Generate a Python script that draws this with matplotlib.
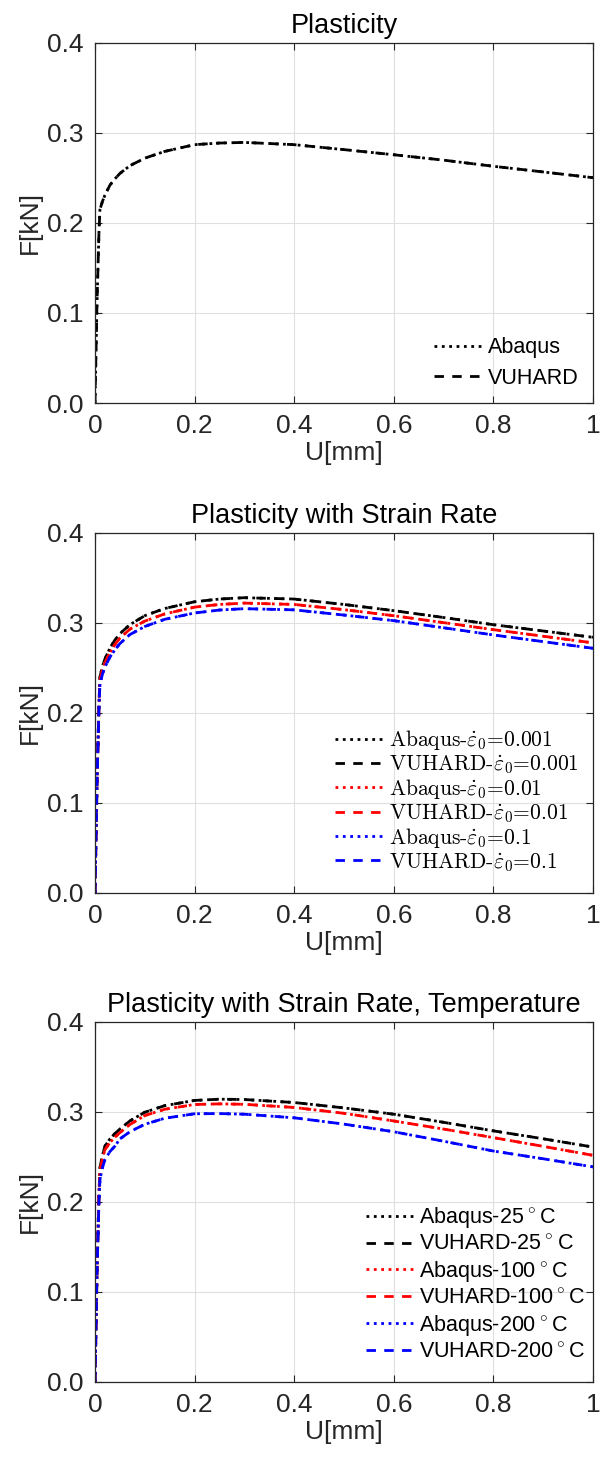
import numpy as np
import matplotlib
matplotlib.use("Agg")
import matplotlib.pyplot as plt

plt.rcParams['font.family'] = ['Liberation Sans', 'DejaVu Sans']
plt.rcParams['mathtext.fontset'] = 'cm'

# displacement points (mm)
u = [0.0, 0.004, 0.008, 0.01, 0.015, 0.02, 0.03, 0.04, 0.05, 0.07, 0.1,
     0.14, 0.2, 0.25, 0.3, 0.4, 0.5, 0.6, 0.7, 0.8, 0.9, 1.0]

# plasticity only
f_plast = [0, 0.11, 0.19, 0.215, 0.224, 0.231, 0.242, 0.249, 0.255, 0.2636, 0.272,
           0.2795, 0.287, 0.2888, 0.2895, 0.287, 0.2815, 0.2758, 0.2698, 0.263, 0.2567, 0.2503]

# strain rate
f_rate_001 = [0, 0.12, 0.21, 0.24, 0.252, 0.26, 0.272, 0.281, 0.288, 0.298, 0.308,
              0.316, 0.3235, 0.3265, 0.328, 0.3265, 0.3205, 0.3136, 0.306, 0.298, 0.291, 0.284]
f_rate_01 = [0, 0.12, 0.21, 0.237, 0.248, 0.256, 0.267, 0.276, 0.283, 0.293, 0.302,
             0.31, 0.3175, 0.3205, 0.322, 0.3205, 0.3147, 0.308, 0.3003, 0.2925, 0.2852, 0.2778]
f_rate_1 = [0, 0.12, 0.205, 0.232, 0.243, 0.251, 0.262, 0.27, 0.277, 0.287, 0.296,
            0.304, 0.311, 0.3143, 0.3158, 0.3145, 0.3087, 0.3025, 0.2946, 0.2866, 0.2792, 0.2718]

# temperature
f_t25 = [0, 0.12, 0.21, 0.238, 0.252, 0.262, 0.27, 0.276, 0.281, 0.29, 0.2997,
         0.307, 0.3128, 0.3142, 0.3138, 0.3105, 0.3045, 0.2975, 0.2885, 0.279, 0.2702, 0.261]
f_t100 = [0, 0.12, 0.21, 0.235, 0.248, 0.258, 0.266, 0.272, 0.277, 0.286, 0.296,
          0.303, 0.3083, 0.309, 0.3085, 0.305, 0.2985, 0.29, 0.281, 0.2715, 0.2618, 0.2518]
f_t200 = [0, 0.12, 0.2, 0.225, 0.238, 0.247, 0.256, 0.262, 0.27, 0.278, 0.2863,
          0.293, 0.298, 0.2982, 0.2975, 0.2935, 0.2865, 0.278, 0.2675, 0.2566, 0.248, 0.239]

rate_labels = ['0.001', '0.01', '0.1']
temp_labels = ['25', '100', '200']
colors = ['black', 'red', 'blue']

fig = plt.figure(figsize=(6.0, 14.66), dpi=100)
left, width, height = 0.1583, 0.83, 0.2456
bottoms = [0.7251, 0.3909, 0.0573]
axes = [fig.add_axes([left, b, width, height]) for b in bottoms]

axc = '#262626'
dot = (0, (1, 1.65))
dash = (0, (3.4, 3.0))


def style(ax, title):
    ax.set_xlim(0, 1)
    ax.set_ylim(0, 0.4)
    ax.set_xticks([0, 0.2, 0.4, 0.6, 0.8, 1.0])
    ax.set_xticklabels(['0', '0.2', '0.4', '0.6', '0.8', '1'])
    ax.set_yticks([0, 0.1, 0.2, 0.3, 0.4])
    ax.set_yticklabels(['0.0', '0.1', '0.2', '0.3', '0.4'])
    ax.tick_params(direction='in', top=True, right=True, labelsize=19,
                   colors=axc, length=5, width=0.8, pad=8)
    ax.grid(True, color='#dfdfdf', linewidth=0.8)
    ax.set_axisbelow(True)
    for s in ax.spines.values():
        s.set_color(axc)
        s.set_linewidth(0.9)
    ax.set_xlabel('U[mm]', fontsize=19, color=axc, labelpad=2)
    ax.set_ylabel('F[kN]', fontsize=19, color=axc, labelpad=4)
    ax.set_title(title, fontsize=19.5, color='black', pad=7)


lw = 2.0

ax = axes[0]
ax.plot(u, f_plast, linestyle=dot, color='black', lw=lw, label='Abaqus')
ax.plot(u, f_plast, linestyle=dash, color='black', lw=lw, label='VUHARD')
style(ax, 'Plasticity')
ax.legend(loc='lower right', frameon=False, fontsize=15.5, handlelength=2.2,
          handletextpad=0.3, bbox_to_anchor=(1.01, -0.015), labelspacing=0.45)

ax = axes[1]
for f, lab, c in zip([f_rate_001, f_rate_01, f_rate_1], rate_labels, colors):
    ax.plot(u, f, linestyle=dot, color=c, lw=lw, label='Abaqus-$\\dot{\\varepsilon}_0$=' + lab)
    ax.plot(u, f, linestyle=dash, color=c, lw=lw, label='VUHARD-$\\dot{\\varepsilon}_0$=' + lab)
style(ax, 'Plasticity with Strain Rate')
ax.legend(loc='lower right', frameon=False, prop={'family': 'cmr10', 'size': 15.5},
          handlelength=2.2, handletextpad=0.3, bbox_to_anchor=(1.01, 0.0), labelspacing=0.05)

ax = axes[2]
for f, lab, c in zip([f_t25, f_t100, f_t200], temp_labels, colors):
    ax.plot(u, f, linestyle=dot, color=c, lw=lw, label='Abaqus-' + lab + r'$\,^{\circ}\,$C')
    ax.plot(u, f, linestyle=dash, color=c, lw=lw, label='VUHARD-' + lab + r'$\,^{\circ}\,$C')
style(ax, 'Plasticity with Strain Rate, Temperature')
ax.legend(loc='lower right', frameon=False, fontsize=15.5, handlelength=2.2,
          handletextpad=0.3, bbox_to_anchor=(1.025, 0.0), labelspacing=0.18)

fig.savefig('out.png', dpi=100)
